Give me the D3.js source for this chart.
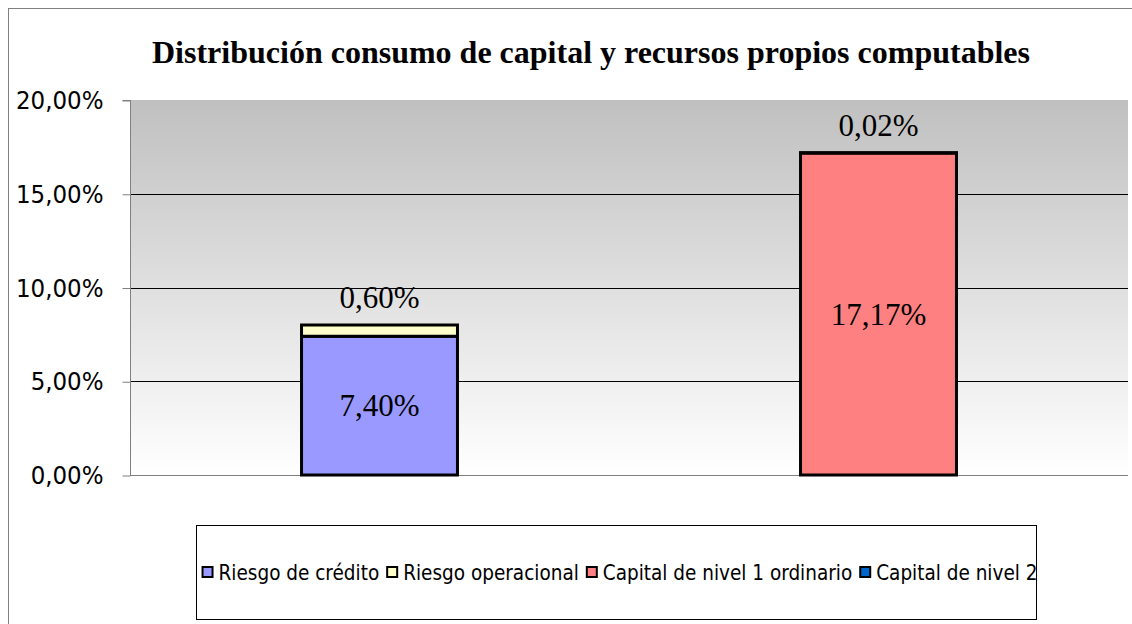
<!DOCTYPE html>
<html>
<head>
<meta charset="utf-8">
<script src="https://cdn.jsdelivr.net/npm/d3@7"></script>
<style>
  html, body { margin: 0; padding: 0; background: #fff; }
  svg { display: block; }
</style>
</head>
<body>
<div id="chart"></div>
<script>
// --- data ---
const categories = ["Consumo de capital", "Recursos propios computables"];
const seriesNames = ["Riesgo de crédito", "Riesgo operacional", "Capital de nivel 1 ordinario", "Capital de nivel 2"];
const seriesColors = ["#9999ff", "#ffffcc", "#ff8080", "#0066cc"];
const riesgoCredito = [7.40, 0];
const riesgoOperacional = [0.60, 0];
const capitalNivel1 = [0, 17.17];
const capitalNivel2 = [0, 0.02];
const yTicks = [0, 5, 10, 15, 20];

const seriesValues = [riesgoCredito, riesgoOperacional, capitalNivel1, capitalNivel2];

const width = 1132, height = 624;
const plot = { left: 130, top: 100, right: 1128, bottom: 475 };
const sansFont = "'DejaVu Sans Condensed', 'DejaVu Sans', Tahoma, sans-serif";
const serifFont = "'Liberation Serif', 'Times New Roman', serif";

const fmt = v => v.toFixed(2).replace(".", ",") + "%";

const svg = d3.select("#chart").append("svg")
    .attr("width", width)
    .attr("height", height);

// outer chart border (extends past the window on right/bottom)
svg.append("rect")
    .attr("x", 8.5).attr("y", 8.5)
    .attr("width", 1300).attr("height", 800)
    .attr("fill", "#fff")
    .attr("stroke", "#808080")
    .attr("stroke-width", 1);

// title
svg.append("text")
    .attr("x", 591).attr("y", 63)
    .attr("text-anchor", "middle")
    .attr("font-family", serifFont)
    .attr("font-weight", "bold")
    .attr("font-size", 32)
    .text("Distribución consumo de capital y recursos propios computables");

// plot background gradient
const defs = svg.append("defs");
const grad = defs.append("linearGradient")
    .attr("id", "plot-bg")
    .attr("x1", "0%").attr("y1", "0%")
    .attr("x2", "0%").attr("y2", "100%");
grad.append("stop").attr("offset", "0%").attr("stop-color", "#c0c0c0");
grad.append("stop").attr("offset", "100%").attr("stop-color", "#ffffff");

svg.append("rect")
    .attr("x", plot.left).attr("y", plot.top)
    .attr("width", plot.right - plot.left)
    .attr("height", plot.bottom - plot.top)
    .attr("fill", "url(#plot-bg)");

// scales
const x = d3.scaleBand()
    .domain(categories)
    .range([plot.left, plot.right])
    .paddingInner(0)
    .paddingOuter(0);
const barW = x.bandwidth() * 0.3125;

const y = d3.scaleLinear()
    .domain([0, 20])
    .range([plot.bottom, plot.top]);

// gridlines
svg.append("g")
    .selectAll("line")
    .data(yTicks.filter(t => t > 0 && t < 20))
    .join("line")
    .attr("x1", plot.left).attr("x2", plot.right)
    .attr("y1", d => Math.round(y(d)) + 0.5)
    .attr("y2", d => Math.round(y(d)) + 0.5)
    .attr("stroke", "#000")
    .attr("stroke-width", 1);

// y axis
const yAxis = svg.append("g")
    .attr("transform", `translate(${plot.left + 0.5},0.5)`)
    .call(d3.axisLeft(y).tickValues(yTicks).tickSize(8).tickPadding(19).tickFormat(fmt));
yAxis.selectAll("path, line").attr("stroke", "#808080");
yAxis.select(".domain").attr("d", `M-8,${plot.top}H0V${plot.bottom}`);
yAxis.selectAll("text")
    .attr("font-family", sansFont)
    .attr("font-size", 25.5)
    .attr("fill", "#000");

// bottom axis line
svg.append("line")
    .attr("x1", plot.left).attr("x2", plot.right)
    .attr("y1", plot.bottom + 0.5).attr("y2", plot.bottom + 0.5)
    .attr("stroke", "#808080");

// stacked bars
const stackRows = categories.map((c, i) => {
    const row = { cat: c };
    seriesNames.forEach((s, j) => row[s] = seriesValues[j][i]);
    return row;
});
const stacked = d3.stack().keys(seriesNames)(stackRows);

const segs = [];
stacked.forEach((layer, j) => {
    layer.forEach((d, i) => {
        const v = d[1] - d[0];
        if (v > 0) segs.push({ series: j, cat: categories[i], y0: d[0], y1: d[1], value: v });
    });
});

svg.append("g")
    .selectAll("rect")
    .data(segs)
    .join("rect")
    .attr("x", d => x(d.cat) + (x.bandwidth() - barW) / 2)
    .attr("width", barW)
    .attr("y", d => y(d.y1))
    .attr("height", d => y(d.y0) - y(d.y1))
    .attr("fill", d => seriesColors[d.series])
    .attr("stroke", "#000")
    .attr("stroke-width", 3);

// value labels: top segment of each bar above the bar, others centered
const topSeg = new Map();
segs.forEach(d => {
    if (!topSeg.has(d.cat) || topSeg.get(d.cat).y1 < d.y1) topSeg.set(d.cat, d);
});

svg.append("g")
    .selectAll("text")
    .data(segs)
    .join("text")
    .attr("x", d => x(d.cat) + x.bandwidth() / 2)
    .attr("y", d => topSeg.get(d.cat) === d
        ? y(d.y1) - 17
        : (y(d.y0) + y(d.y1)) / 2)
    .attr("dy", d => topSeg.get(d.cat) === d ? 0 : "0.35em")
    .attr("text-anchor", "middle")
    .attr("font-family", serifFont)
    .attr("font-size", 31)
    .text(d => fmt(d.value));

// legend
const legend = svg.append("g");
legend.append("rect")
    .attr("x", 196.5).attr("y", 525.5)
    .attr("width", 840).attr("height", 94)
    .attr("fill", "#fff")
    .attr("stroke", "#000");

const items = legend.selectAll("g.item")
    .data(seriesNames)
    .join("g")
    .attr("class", "item");
items.append("rect")
    .attr("width", 10).attr("height", 10)
    .attr("y", 567)
    .attr("fill", (d, i) => seriesColors[i])
    .attr("stroke", "#000")
    .attr("stroke-width", 2);
items.append("text")
    .attr("x", 16)
    .attr("y", 580)
    .attr("font-family", sansFont)
    .attr("font-size", 20.5)
    .text(d => d);

let cx = 0;
const offsets = [];
items.each(function () {
    offsets.push(cx);
    const w = d3.select(this).select("text").node().getComputedTextLength();
    cx += 16 + w + 8;
});
const totalW = cx - 8;
const startX = 620 - totalW / 2;
items.attr("transform", (d, i) => `translate(${startX + offsets[i]},0)`);
</script>
</body>
</html>
